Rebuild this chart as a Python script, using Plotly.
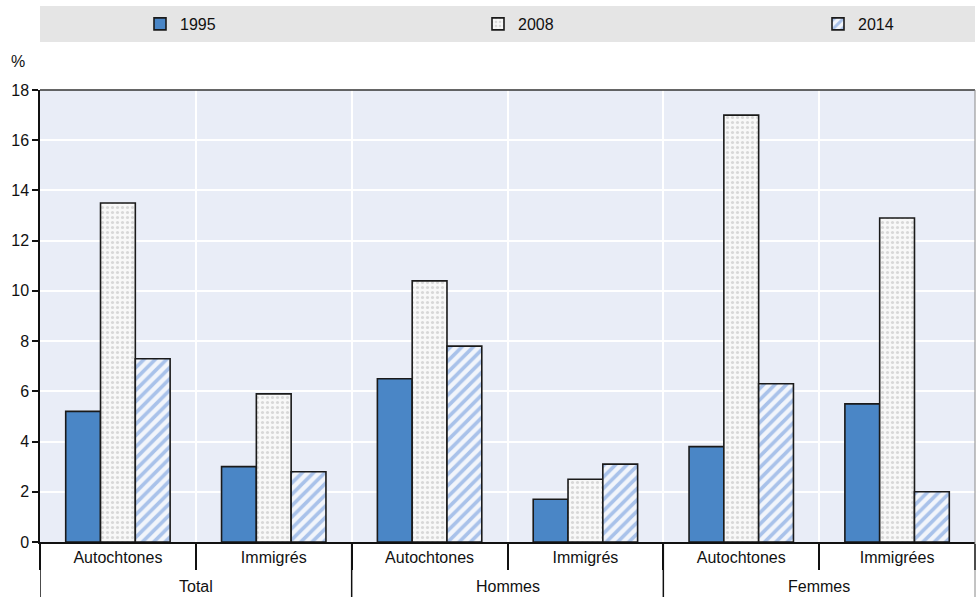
import plotly.graph_objects as go

groups = ["Total", "Hommes", "Femmes"]
subcats = ["Autochtones", "Immigrés", "Autochtones", "Immigrés", "Autochtones", "Immigrées"]
group_of = ["Total", "Total", "Hommes", "Hommes", "Femmes", "Femmes"]
years = ["1995", "2008", "2014"]
v1995 = [5.2, 3.0, 6.5, 1.7, 3.8, 5.5]
v2008 = [13.5, 5.9, 10.4, 2.5, 17.0, 12.9]
v2014 = [7.3, 2.8, 7.8, 3.1, 6.3, 2.0]
yticks = [0, 2, 4, 6, 8, 10, 12, 14, 16, 18]

FONT = "Liberation Sans Narrow, Arial Narrow, Liberation Sans, Arial, sans-serif"
FS = 16

W, H = 976, 597
L, R, T, B = 40, 1, 90, 55
PH = H - T - B

# unique category keys, displayed with the sub-category names
keys = [f"{g}|{s}" for g, s in zip(group_of, subcats)]


def py(ypix):
    return (H - B - ypix) / PH


def cx(xpix):
    return xpix / W


fig = go.Figure()
fig.add_bar(x=keys, y=v1995, name=years[0], legend="legend",
            marker=dict(color="#4a86c6", line=dict(color="#1a1a1a", width=1.6)))
fig.add_bar(x=keys, y=v2008, name=years[1], legend="legend2",
            marker=dict(color="#f4f4f4", line=dict(color="#1a1a1a", width=1.6),
                        pattern=dict(shape=".", bgcolor="#f8f8f8", fgcolor="#d8d8d8",
                                     size=5, solidity=0.3, fillmode="replace")))
fig.add_bar(x=keys, y=v2014, name=years[2], legend="legend3",
            marker=dict(color="#ffffff", line=dict(color="#1a1a1a", width=1.6),
                        pattern=dict(shape="/", bgcolor="#f2f5fb", fgcolor="#a9c2ea",
                                     size=8, solidity=0.45, fillmode="replace")))

leg_common = dict(orientation="h", xref="container", yref="container",
                  y=1 - 24 / H, yanchor="middle", xanchor="left",
                  bgcolor="rgba(0,0,0,0)", font=dict(family=FONT, size=FS),
                  itemclick=False, itemdoubleclick=False)

n_sub = len(keys)
per_group = n_sub // len(groups)
shapes = [
    dict(type="rect", xref="paper", yref="paper", x0=0.0, x1=1.0,
         y0=py(42), y1=py(6), fillcolor="#e5e5e5", line=dict(width=0), layer="below"),
    dict(type="line", xref="paper", yref="paper", x0=0, x1=1, y0=1, y1=1,
         line=dict(color="#333333", width=1.5)),
    dict(type="line", xref="paper", yref="paper", x0=1, x1=1, y0=py(H), y1=1,
         line=dict(color="#888888", width=1)),
]
for gi in range(len(groups)):
    xb = gi * per_group - 0.5
    shapes.append(dict(type="line", xref="x", yref="paper", x0=xb, x1=xb,
                       y0=0, y1=py(H), line=dict(color="#111111", width=1.5)))

annotations = [dict(text="%", xref="paper", yref="paper", x=(18 - L) / (W - L - R),
                    y=py(62), xanchor="center", yanchor="middle", showarrow=False,
                    font=dict(family=FONT, size=FS))]
for gi, g in enumerate(groups):
    xc = gi * per_group + (per_group - 1) / 2
    annotations.append(dict(text=g, xref="x", yref="paper", x=xc, y=py(586),
                            xanchor="center", yanchor="middle", showarrow=False,
                            font=dict(family=FONT, size=FS)))

fig.update_layout(
    width=W, height=H,
    margin=dict(l=L, r=R, t=T, b=B, autoexpand=False),
    paper_bgcolor="white", plot_bgcolor="#e9edf7",
    barmode="group", bargap=0.33, bargroupgap=0,
    font=dict(family=FONT, size=FS, color="#111111"),
    showlegend=True,
    legend=dict(x=cx(140), **leg_common),
    legend2=dict(x=cx(478), **leg_common),
    legend3=dict(x=cx(818), **leg_common),
    xaxis=dict(type="category", tickvals=keys, ticktext=subcats,
               showgrid=True, gridcolor="white", gridwidth=1.5,
               tickson="boundaries", ticks="outside", ticklen=26, tickwidth=1.5,
               tickcolor="#111111", showline=True, linecolor="#111111", linewidth=1.5,
               tickfont=dict(family=FONT, size=FS), zeroline=False, automargin=False,
               range=[-0.5, n_sub - 0.5]),
    yaxis=dict(range=[0, 18], tickvals=yticks, showgrid=True, gridcolor="white",
               gridwidth=1.5, ticks="outside", ticklen=6, tickwidth=1.5,
               tickcolor="#111111", showline=True, linecolor="#111111", linewidth=1.5,
               zeroline=False, tickfont=dict(family=FONT, size=FS), automargin=False),
    shapes=shapes,
    annotations=annotations,
)

fig.write_html("out.html", config={"displayModeBar": False},
               post_script="document.body.style.margin='0';")
